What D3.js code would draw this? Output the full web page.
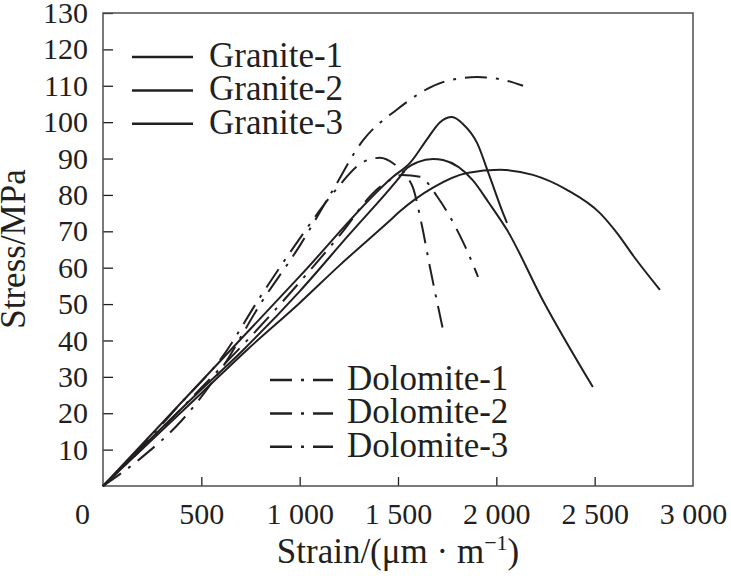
<!DOCTYPE html>
<html>
<head>
<meta charset="utf-8">
<script src="https://cdn.jsdelivr.net/npm/d3@7"></script>
<style>
  body { margin: 0; background: #fff; }
</style>
</head>
<body>
<div id="chart"></div>
<script>
// values
const granite1Strain = [0, 500, 1000, 1475, 1561, 1650, 1714, 1775, 1830, 1902, 1960, 2034, 2054];
const granite1Stress = [0, 28.8, 57.6, 85, 88.8, 95.5, 100, 101.4, 99.5, 94.3, 86, 75, 72.3];
const granite2Strain = [0, 500, 713, 1000, 1250, 1495, 1546, 1600, 1678, 1729, 1881, 1960, 2054, 2237, 2491];
const granite2Stress = [0, 26.5, 37.4, 53.5, 69, 84, 87.4, 89, 89.9, 89.6, 84, 78, 70.4, 51, 27.2];
const granite3Strain = [0, 500, 732, 1000, 1200, 1459, 1510, 1678, 1851, 2019, 2186, 2359, 2527, 2614, 2700, 2832];
const granite3Stress = [0, 25.5, 37.4, 50.3, 60.5, 73, 75.5, 82, 86, 86.9, 85.5, 81.4, 75, 69.5, 63, 53.9];
const dolomite1Strain = [0, 200, 400, 600, 800, 1000, 1160, 1322, 1495, 1729, 1902, 2000, 2136];
const dolomite1Stress = [0, 8, 18, 32, 50, 66, 80.5, 95, 103.5, 111, 112.4, 112, 110];
const dolomite2Strain = [0, 200, 400, 600, 800, 1000, 1170, 1322, 1408, 1480, 1546, 1576, 1620, 1663, 1729];
const dolomite2Stress = [0, 11, 23, 35, 52, 68, 80.5, 89, 90.2, 88.5, 85, 82, 72, 60, 42.9];
const dolomite3Strain = [0, 250, 500, 750, 1000, 1220, 1373, 1444, 1520, 1612, 1700, 1764, 1840, 1907];
const dolomite3Stress = [0, 13, 27, 41, 56, 70, 80.5, 83.6, 85.5, 85, 79.5, 74, 66, 57.5];

const graniteNames = ["Granite-1", "Granite-2", "Granite-3"];
const dolomiteNames = ["Dolomite-1", "Dolomite-2", "Dolomite-3"];
const xTicks = [0, 500, 1000, 1500, 2000, 2500, 3000];
const xTickLabels = ["0", "500", "1 000", "1 500", "2 000", "2 500", "3 000"];
const yTicks = [10, 20, 30, 40, 50, 60, 70, 80, 90, 100, 110, 120, 130];

const width = 731, height = 576;
const margin = {top: 13, right: 38, bottom: 90, left: 103};
const innerW = width - margin.left - margin.right,
      innerH = height - margin.top - margin.bottom;
const ink = "#231f20";
const font = "'Liberation Serif', Tinos, 'Times New Roman', 'DejaVu Serif', serif";
const dash = "22,9,3,9";

const series = [
  {name: graniteNames[0], xs: granite1Strain, ys: granite1Stress, dash: null},
  {name: graniteNames[1], xs: granite2Strain, ys: granite2Stress, dash: null},
  {name: graniteNames[2], xs: granite3Strain, ys: granite3Stress, dash: null},
  {name: dolomiteNames[0], xs: dolomite1Strain, ys: dolomite1Stress, dash: dash},
  {name: dolomiteNames[1], xs: dolomite2Strain, ys: dolomite2Stress, dash: dash},
  {name: dolomiteNames[2], xs: dolomite3Strain, ys: dolomite3Stress, dash: dash}
];

const svg = d3.select("#chart").append("svg")
  .attr("width", width).attr("height", height)
  .attr("font-family", font);

const g = svg.append("g")
  .attr("transform", "translate(" + margin.left + "," + margin.top + ")");

const x = d3.scaleLinear().domain([0, 3000]).range([0, innerW]);
const y = d3.scaleLinear().domain([0, 130]).range([innerH, 0]);

// axes, ticks pointing inward
const xAxis = g.append("g")
  .attr("transform", "translate(0," + innerH + ")")
  .call(d3.axisBottom(x).tickValues(xTicks).tickSize(-9).tickPadding(17)
    .tickFormat((d, i) => xTickLabels[i]));
const yAxis = g.append("g")
  .call(d3.axisLeft(y).tickValues(yTicks).tickSize(-10).tickPadding(15));

[xAxis, yAxis].forEach(a => {
  a.attr("font-family", font).attr("font-size", 30);
  a.select(".domain").remove();
  a.selectAll("line").attr("stroke", ink).attr("stroke-width", 1.3);
  a.selectAll("text").attr("fill", ink);
});
xAxis.selectAll(".tick").filter(d => d === 0 || d === 3000).select("line").remove();
xAxis.selectAll(".tick").filter(d => d === 0).select("text").attr("x", -21);

// frame
g.append("rect")
  .attr("width", innerW).attr("height", innerH)
  .attr("fill", "none").attr("stroke", "#4d4d4f").attr("stroke-width", 1.5);

const line = d3.line()
  .x(d => x(d[0])).y(d => y(d[1]))
  .curve(d3.curveMonotoneX);

g.selectAll(".curve")
  .data(series)
  .enter().append("path")
  .attr("class", "curve")
  .attr("d", s => line(s.xs.map((v, i) => [v, s.ys[i]])))
  .attr("fill", "none")
  .attr("stroke", ink)
  .attr("stroke-width", 2)
  .attr("stroke-dasharray", s => s.dash);

// legends
function legend(names, x0, y0, lineLen, textX, dashed) {
  names.forEach((n, i) => {
    const yy = y0 + i * 33.4;
    svg.append("line")
      .attr("x1", x0).attr("x2", x0 + lineLen)
      .attr("y1", yy).attr("y2", yy)
      .attr("stroke", ink).attr("stroke-width", 2.5)
      .attr("stroke-dasharray", dashed ? dash : null);
    svg.append("text")
      .attr("x", textX).attr("y", yy + 10)
      .attr("font-size", 35).attr("fill", ink)
      .text(n);
  });
}
legend(graniteNames, 132, 57, 61, 209, false);
legend(dolomiteNames, 270, 380, 63, 347, true);

// axis titles
const xt = svg.append("text")
  .attr("x", margin.left + innerW / 2).attr("y", 563)
  .attr("text-anchor", "middle")
  .attr("font-size", 35).attr("fill", ink);
xt.append("tspan").text("Strain/(\u03bcm \u00b7 m");
xt.append("tspan").text("\u2212").attr("font-size", 22).attr("dy", -13);
xt.append("tspan").text("1").attr("font-size", 22);
xt.append("tspan").text(")").attr("dy", 13);

svg.append("text")
  .attr("transform", "translate(25,249) rotate(-90)")
  .attr("text-anchor", "middle")
  .attr("font-size", 35).attr("fill", ink)
  .text("Stress/MPa");
</script>
</body>
</html>
